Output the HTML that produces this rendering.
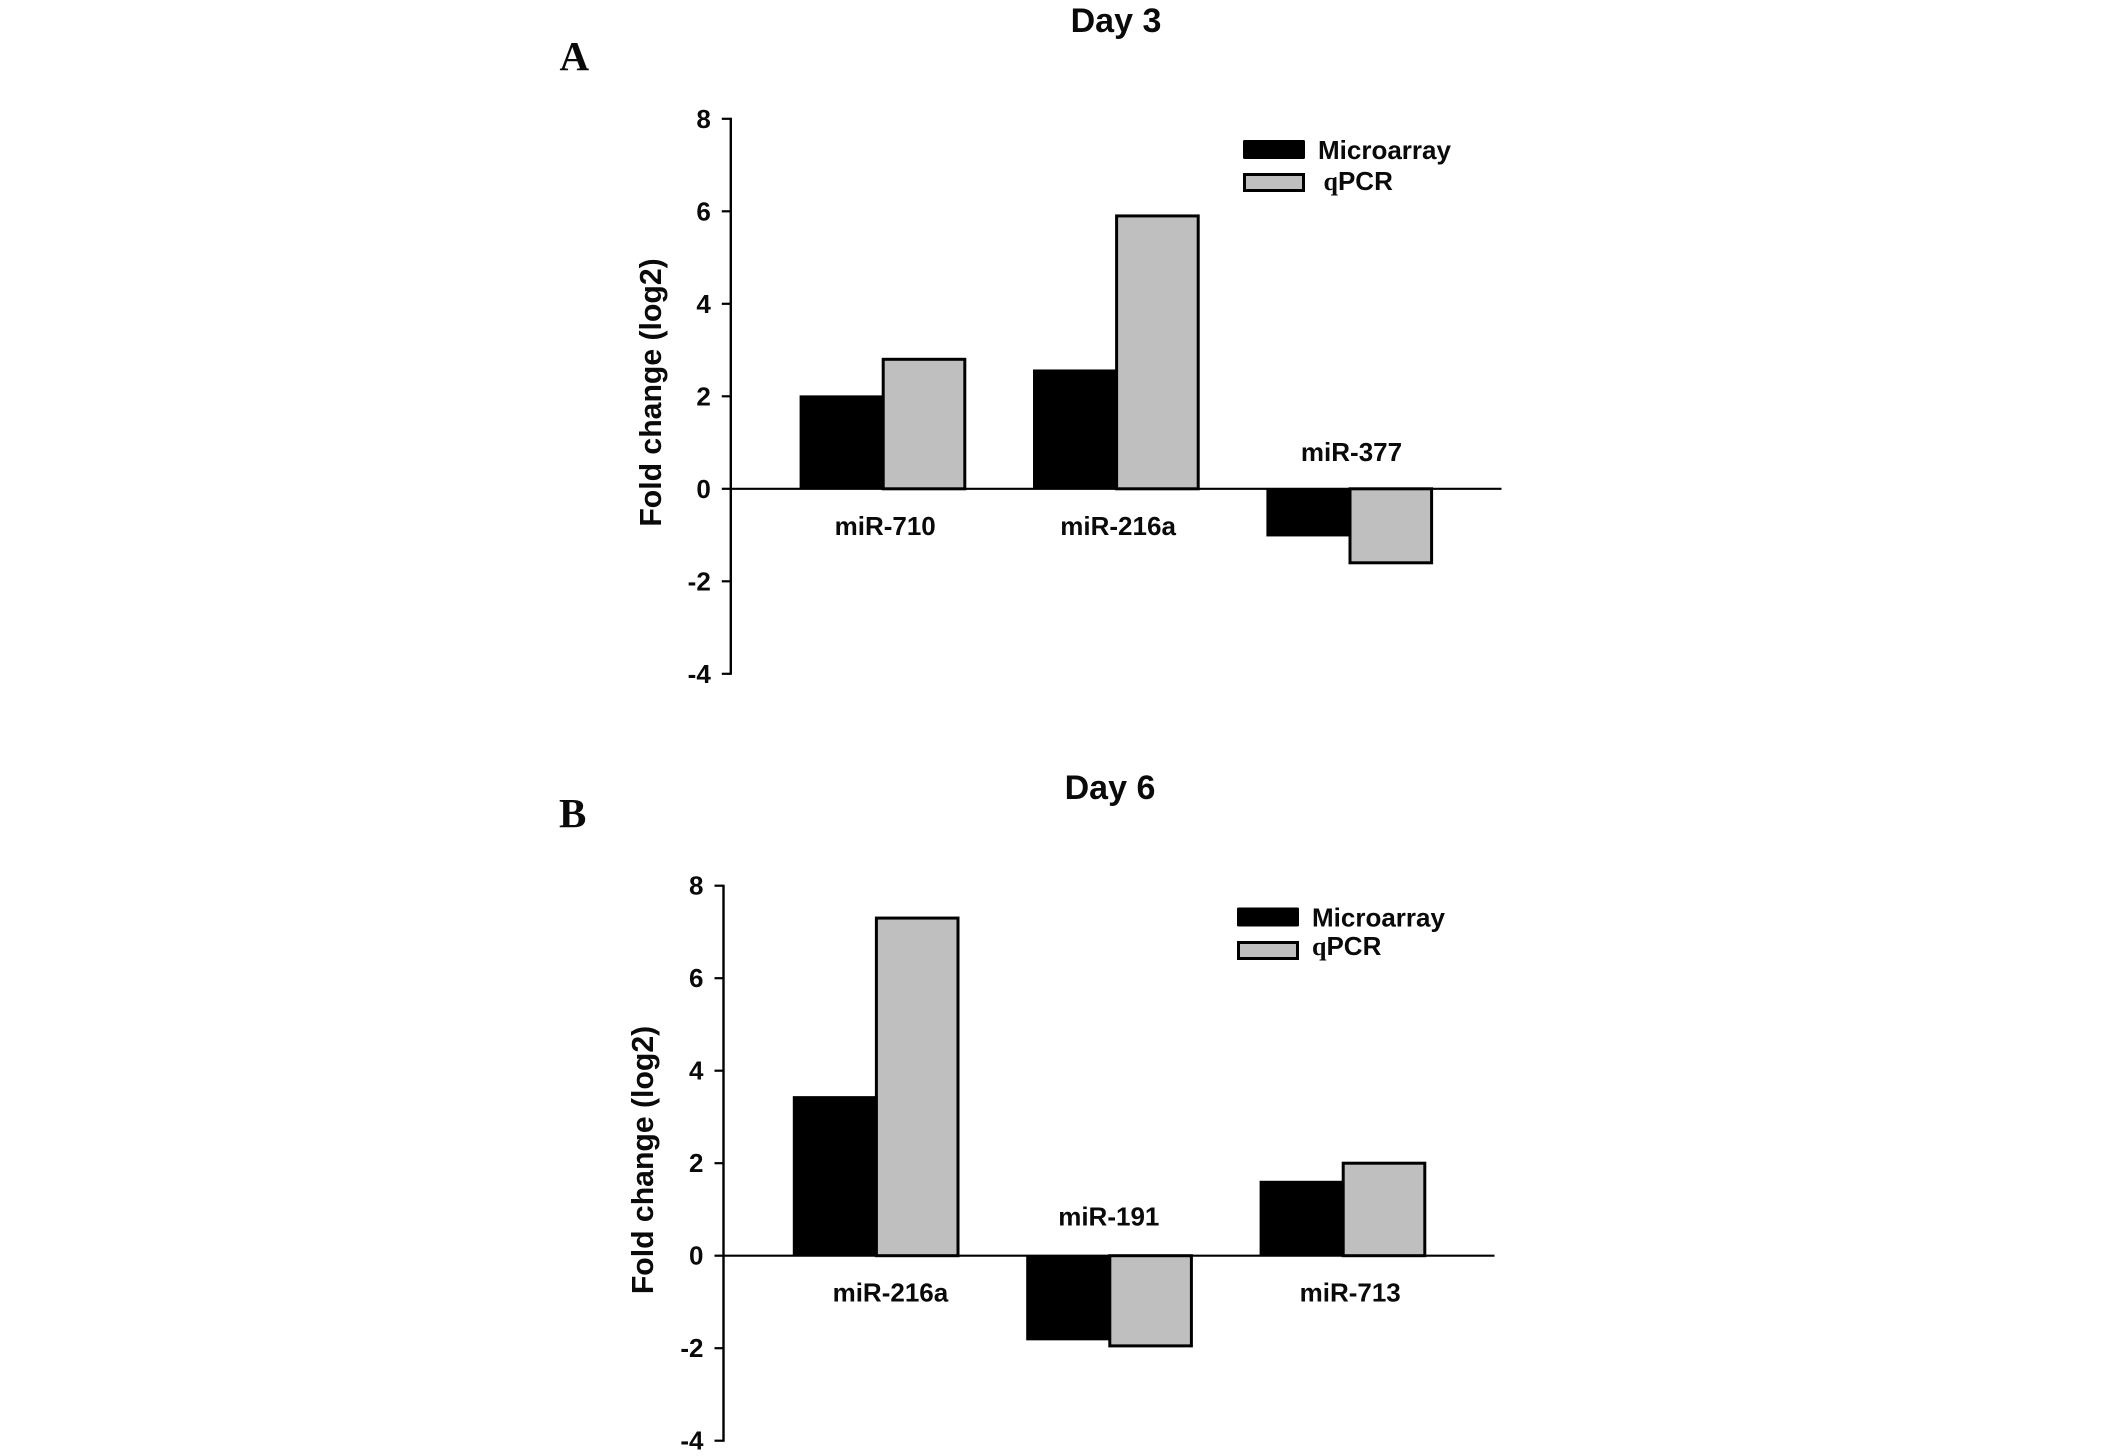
<!DOCTYPE html>
<html lang="en">
<head>
<meta charset="utf-8">
<title>Fold change by day</title>
<style>
html,body{margin:0;padding:0;background:#fff;width:2126px;height:1456px;overflow:hidden}
svg{display:block}
text{font-family:"Liberation Sans",Arial,sans-serif;font-weight:bold;fill:#0a0a0a}
</style>
</head>
<body>
<svg id="chart" xmlns="http://www.w3.org/2000/svg" width="2126" height="1456" viewBox="0 0 2126 1456"></svg>
<script>
const tickValues = [8, 6, 4, 2, 0, -2, -4];
const seriesNames = ["Microarray", "qPCR"];

const day3Categories = ["miR-710", "miR-216a", "miR-377"];
const day3Microarray = [2.02, 2.58, -1.03];
const day3Qpcr = [2.8, 5.9, -1.6];

const day6Categories = ["miR-216a", "miR-191", "miR-713"];
const day6Microarray = [3.45, -1.83, 1.62];
const day6Qpcr = [7.3, -1.95, 2.0];

const svg = document.getElementById('chart');
const NS = 'http://www.w3.org/2000/svg';

function make(tag, attrs, name, parent) {
  const el = document.createElementNS(NS, tag);
  for (const k in attrs) el.setAttribute(k, attrs[k]);
  
  
  (parent || svg).appendChild(el);
  return el;
}
function label(str, x, y, size, anchor, name, parent, extra) {
  const t = make('text', Object.assign({x: x, y: y, 'font-size': size, 'text-anchor': anchor}, extra || {}), name, parent);
  t.textContent = str;
  return t;
}

function drawPanel(p) {
  const g = make('g', {}, p.id + '-panel');
  const yScale = v => p.zeroY - v * p.unit;
  const xBand = (i, j) => p.firstBarX + i * p.groupStep + j * p.barW;

  label(p.title, p.titleX, p.titleY, 34, 'middle', p.id + '-title', g);
  label(p.letter, p.letterX, p.letterY, 41, 'start', p.id + '-panel-letter', g,
    {style: 'font-family:"Liberation Serif",serif'});

  label('Fold change (log2)', 0, 0, 30.2, 'middle', p.id + '-y-axis-title', g,
    {transform: 'translate(' + p.yTitleX + ',' + p.yTitleY + ') rotate(-90)'});

  // bars
  p.categories.forEach((c, i) => {
    const m = p.microarray[i], q = p.qpcr[i];
    const y0 = yScale(0);
    make('rect', {x: xBand(i, 0), y: Math.min(yScale(m), y0), width: p.barW + 1, height: Math.abs(yScale(m) - y0), fill: '#000'},
      p.id + '-bar-microarray-' + c, g);
    make('rect', {x: xBand(i, 1) + 1, y: Math.min(yScale(q), y0), width: p.barW - 1, height: Math.abs(yScale(q) - y0), fill: '#bfbfbf', stroke: '#000', 'stroke-width': 3},
      p.id + '-bar-qpcr-' + c, g);
    const lift = Math.min(m, q) < 0 ? p.labelLift : -37;
    label(c, xBand(i, 1) + p.labelNudge[i], y0 - lift + 9, 26, 'middle', p.id + '-category-label-' + c, g);
  });

  // axes
  make('line', {x1: p.axisX, x2: p.axisX, y1: yScale(tickValues[0]) - 1, y2: yScale(tickValues[tickValues.length - 1]) + 1, stroke: '#000', 'stroke-width': 2.4}, p.id + '-y-axis-line', g);
  make('line', {x1: p.axisX, x2: p.axisEnd, y1: yScale(0), y2: yScale(0), stroke: '#000', 'stroke-width': 2.2}, p.id + '-zero-line', g);
  tickValues.forEach(v => {
    make('line', {x1: p.axisX - 9, x2: p.axisX, y1: yScale(v), y2: yScale(v), stroke: '#000', 'stroke-width': 2.2}, p.id + '-y-tick-' + v, g);
    label(String(v), p.axisX - 20, yScale(v) + 9, 26, 'end', p.id + '-y-tick-label-' + v, g);
  });

  // legend
  const lg = make('g', {}, p.id + '-legend', g);
  make('rect', {x: p.legendX, y: p.legendY1, width: 62, height: 19, rx: 1.5, fill: '#000'}, p.id + '-legend-swatch-microarray', lg);
  label(seriesNames[0], p.legendX + 75, p.legendY1 + 19, 26, 'start', p.id + '-legend-label-microarray', lg);
  make('rect', {x: p.legendX + 1.5, y: p.legendY2 + 1.5, width: 59, height: 16, fill: '#bfbfbf', stroke: '#000', 'stroke-width': 3}, p.id + '-legend-swatch-qpcr', lg);
  const q = label('', p.legendX + p.qLabelDx, p.legendY2 + p.qLabelDy, 26, 'start', p.id + '-legend-label-qpcr', lg);
  const qHead = document.createElementNS(NS, 'tspan');
  qHead.setAttribute('style', 'font-family:"Liberation Serif",serif');
  qHead.textContent = seriesNames[1].slice(0, 1);
  q.appendChild(qHead);
  q.appendChild(document.createTextNode(seriesNames[1].slice(1)));
}

drawPanel({
  id: 'day-3', title: 'Day 3', letter: 'A',
  categories: day3Categories, microarray: day3Microarray, qpcr: day3Qpcr,
  zeroY: 488.8, unit: 46.25, axisX: 730.8, axisEnd: 1501.5,
  firstBarX: 799.6, barW: 82.6, groupStep: 233.4, labelNudge: [3, 2.5, 2.5], labelLift: 37,
  titleX: 1116, titleY: 32, letterX: 559.5, letterY: 70,
  yTitleX: 661, yTitleY: 392.5,
  legendX: 1243, legendY1: 140, legendY2: 173, qLabelDx: 80.5, qLabelDy: 17
});
drawPanel({
  id: 'day-6', title: 'Day 6', letter: 'B',
  categories: day6Categories, microarray: day6Microarray, qpcr: day6Qpcr,
  zeroY: 1255.7, unit: 46.25, axisX: 723.5, axisEnd: 1494.5,
  firstBarX: 792.8, barW: 82.6, groupStep: 233.4, labelNudge: [15, 0, 8], labelLift: 39,
  titleX: 1110, titleY: 799, letterX: 559, letterY: 827,
  yTitleX: 653, yTitleY: 1160,
  legendX: 1237, legendY1: 907.5, legendY2: 941, qLabelDx: 75, qLabelDy: 14
});
</script>
</body>
</html>
